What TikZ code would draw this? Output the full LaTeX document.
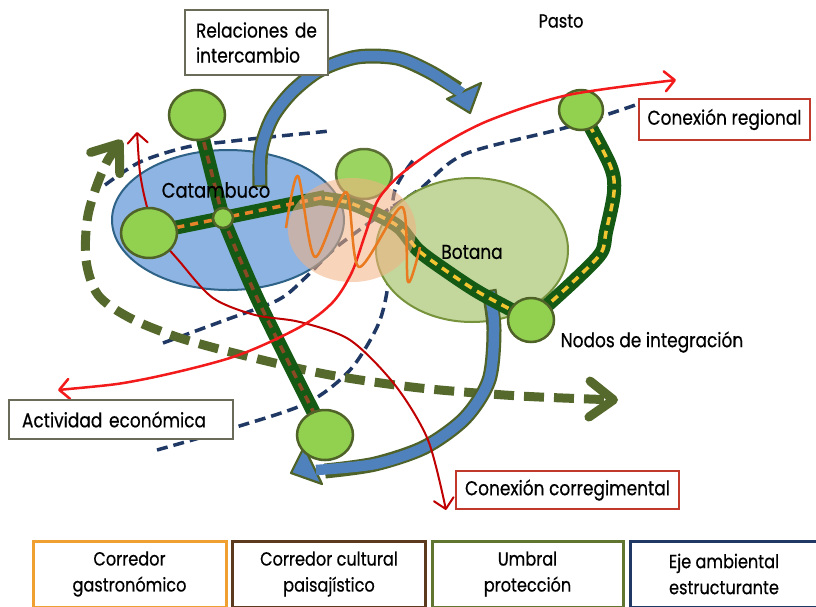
\documentclass[tikz,border=0pt]{standalone}
\usepackage{fontspec}
\setmainfont{Poppins}[FakeStretch=0.85,FakeBold=0.5]
\usetikzlibrary{arrows.meta,shapes.geometric}
\definecolor{navy}{HTML}{1F3864}
\definecolor{olive}{HTML}{4F6228}
\definecolor{olivedash}{HTML}{56692C}
\definecolor{nodefill}{HTML}{92D050}
\definecolor{catfill}{HTML}{8DB4E2}
\definecolor{catline}{HTML}{2E6286}
\definecolor{botfill}{HTML}{C3D69B}
\definecolor{botline}{HTML}{77933C}
\definecolor{peach}{HTML}{F4B183}
\definecolor{corrgreen}{HTML}{145A14}
\definecolor{brownd}{HTML}{8B4A24}
\definecolor{oranged}{HTML}{E8832A}
\definecolor{yellowd}{HTML}{F2C531}
\definecolor{wavec}{HTML}{E97A1F}
\definecolor{brightred}{HTML}{F21A1A}
\definecolor{darkred}{HTML}{C00000}
\definecolor{arrowblue}{HTML}{4F81BD}
\definecolor{boxgray}{HTML}{6B6B5A}
\definecolor{boxred}{HTML}{C0392B}
\definecolor{legorange}{HTML}{F0A030}
\definecolor{legbrown}{HTML}{5C3A1E}
\definecolor{leggreen}{HTML}{5F7530}
\definecolor{legnavy}{HTML}{1F3864}
\begin{document}
\begin{tikzpicture}[x=1pt,y=-1pt,
  navyd/.style={draw=navy,line width=3.5pt,dash pattern=on 11pt off 6pt},
  olived/.style={draw=olivedash,line width=9pt,dash pattern=on 20pt off 10pt,
     {Straight Barb[round,length=24pt,width=36pt]}-{Straight Barb[round,length=24pt,width=36pt]}},
  corr/.style={draw=corrgreen,line width=14pt,line join=round},
  corrdash/.style={line width=3.5pt,dash pattern=on 8pt off 6pt},
  gnode/.style={ellipse,draw=olive,line width=2.5pt,fill=nodefill,inner sep=0pt},
  lbl/.style={font=\fontsize{20}{25}\selectfont,inner sep=0pt},
  gbox/.style={draw=boxgray,line width=1.5pt,fill=white,font=\fontsize{20}{25}\selectfont},
  rbox/.style={draw=boxred,line width=1.5pt,fill=white,font=\fontsize{20}{25}\selectfont},
  legbox/.style={line width=3pt,fill=white,minimum height=66pt,align=center,
     font=\fontsize{19}{26}\selectfont},
  bandout/.style={draw=olive,line width=15pt},
  bandin/.style={draw=arrowblue,line width=10.5pt},
  head/.style={fill=arrowblue,draw=olive,line width=2.2pt,line join=round},
  rarrow/.style={{Straight Barb[round,length=10pt,width=20pt]}-{Straight Barb[round,length=10pt,width=20pt]}}
]
\useasboundingbox (0,0) rectangle (816,606);
\fill[white] (0,0) rectangle (816,606);

% node positions
\coordinate (n1) at (197,115);
\coordinate (n2) at (149,233);
\coordinate (n3) at (223,218);
\coordinate (n4) at (364,174);
\coordinate (n5) at (581,110);
\coordinate (n6) at (531,320);
\coordinate (n7) at (325,435);

% navy dashed axes
\draw[navyd] plot[smooth] coordinates {(105,185) (140,162) (187,147) (233,141) (270,137) (330,131)};
\draw[navyd] plot[smooth] coordinates {(163,343) (220,322) (278,300) (305,278) (333,250) (362,228) (392,207) (420,189) (465,154) (568,127) (650,100)};
\draw[navyd] plot[smooth] coordinates {(157,450) (233,428) (307,403) (350,370) (378,325) (388,285) (390,240) (395,190) (415,158)};

% big olive dashed arrow
\draw[olived] plot[smooth] coordinates {(122,140) (103,170) (88,215) (86,260) (98,295) (130,318) (180,338) (250,357) (330,375) (420,388) (520,396) (618,400)};

% territories
\draw[catline,fill=catfill,line width=2pt] (228,220) ellipse [x radius=116,y radius=70];
\draw[botline,fill=botfill,line width=2pt] (472,250) ellipse [x radius=96,y radius=72];

% blue arrow 1 (relaciones de intercambio)
\draw[bandout] plot[smooth] coordinates {(260,187) (261,150) (272,118) (292,92) (320,70) (357,57) (397,58) (430,72) (458,89)};
\draw[head] (447,99) -- (481,83) -- (470,113) -- cycle;
\draw[bandin,shorten <=2.2pt] plot[smooth] coordinates {(260,187) (261,150) (272,118) (292,92) (320,70) (357,57) (397,58) (430,72) (462,93)};

% blue arrow 2
\draw[bandout] plot[smooth] coordinates {(489,290) (494,330) (489,380) (465,418) (425,447) (375,464) (325,471)};
\draw[head] (304,447) -- (291,473) -- (322,484) -- cycle;
\draw[bandin,shorten <=2.2pt] plot[smooth] coordinates {(489,290) (494,330) (489,380) (465,418) (425,447) (375,464) (316,470)};

% corridors
\draw[corr] (n1) -- (n3);
\draw[corr] plot[smooth] coordinates {(n3) (258,300) (n7)};
\draw[corr] (n2) -- (n3) -- (325,197);
\draw[corr] plot[smooth] coordinates {(318,198) (350,203) (380,216) (400,228) (418,250) (445,270) (480,293) (n6)};
\draw[corr] plot[smooth] coordinates {(n6) (575,280) (601,253) (606,232) (614,192) (610,165) (n5)};
\draw[corrdash,brownd] (n1) -- (n3);
\draw[corrdash,brownd] plot[smooth] coordinates {(n3) (258,300) (n7)};
\draw[corrdash,oranged] (n2) -- (n3) -- (325,197);
\draw[corrdash,yellowd] plot[smooth] coordinates {(325,198) (350,203) (380,216) (400,228) (418,250) (445,270) (480,293) (n6)};
\draw[corrdash,yellowd] plot[smooth] coordinates {(n6) (575,280) (601,253) (606,232) (614,192) (610,165) (n5)};

% conexion corregimental (dark red)
\draw[darkred,line width=2pt,rarrow] plot[smooth] coordinates {(137,132) (142,185) (155,230) (180,262) (213,298) (255,315) (300,322) (350,340) (395,385) (428,440) (446,510)};

% integration nodes
\node[gnode,minimum width=56pt,minimum height=50pt] (N1) at (n1) {};
\node[gnode,minimum width=56pt,minimum height=50pt] (N2) at (n2) {};
\node[gnode,minimum width=20pt,minimum height=20pt] (N3) at (n3) {};
\node[gnode,minimum width=56pt,minimum height=50pt,opacity=0.9] (N4) at (n4) {};
\node[gnode,minimum width=44pt,minimum height=40pt] (N5) at (n5) {};
\node[gnode,minimum width=46pt,minimum height=44pt] (N6) at (n6) {};
\node[gnode,minimum width=56pt,minimum height=50pt] (N7) at (n7) {};

% gastronomic overlap
\fill[peach,opacity=0.55] (352,230) ellipse [x radius=64,y radius=52];

% regional connection (bright red)
\draw[brightred,line width=2.5pt,rarrow] plot[smooth] coordinates {(58,390) (140,380) (233,357) (300,327) (333,302) (352,272) (365,235) (378,200) (400,175) (440,146) (490,120) (568,95) (676,80)};

% gastronomic wave
\draw[wavec,line width=2.5pt,line join=round] plot[smooth,tension=0.5] coordinates {(286,228) (298,176) (315,257) (346,192) (359,267) (402,207) (408,282) (420,247)};

% labels
\node[lbl,font=\fontsize{21}{25}\selectfont] (cat) at (216,190) {Catambuco};
\node[lbl] (bot) at (472,252) {Botana};
\node[lbl,font=\fontsize{19}{25}\selectfont] (pasto) at (561,21) {Pasto};
\node[lbl] (nodos) at (652,342) {Nodos de integración};
\node[gbox,minimum width=143pt,minimum height=65pt,text width=121pt,align=left,inner xsep=11pt] (rel) at (256.5,42.5) {Relaciones de\\intercambio};
\node[rbox,minimum width=171pt,minimum height=41pt] (creg) at (724.5,119.5) {Conexión regional};
\node[gbox,minimum width=224pt,minimum height=39pt,text width=198pt,align=left,inner xsep=13pt] (act) at (121,419.5) {Actividad económica};
\node[rbox,minimum width=223pt,minimum height=38pt] (ccor) at (567.5,490) {Conexión corregimental};

% legend
\node[legbox,draw=legorange,minimum width=193pt] (L1) at (129.5,574) {Corredor\\gastronómico};
\node[legbox,draw=legbrown,minimum width=193pt] (L2) at (329,574) {Corredor cultural\\paisajístico};
\node[legbox,draw=leggreen,minimum width=191pt] (L3) at (527.5,574) {Umbral\\protección};
\node[legbox,draw=legnavy,minimum width=188pt] (L4) at (724,574) {Eje ambiental\\estructurante};
\end{tikzpicture}
\end{document}
